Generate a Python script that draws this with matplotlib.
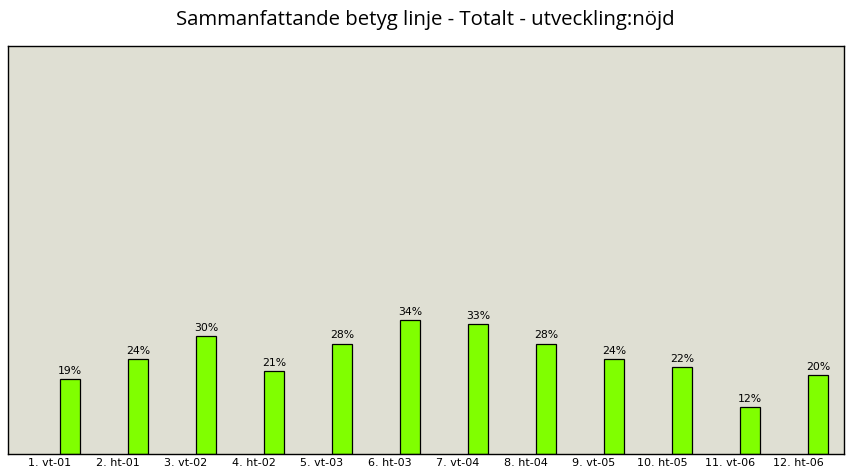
import matplotlib
matplotlib.use("Agg")
import matplotlib.pyplot as plt
import numpy as np

# data
categories = ["1. vt-01", "2. ht-01", "3. vt-02", "4. ht-02", "5. vt-03", "6. ht-03",
              "7. vt-04", "8. ht-04", "9. vt-05", "10. ht-05", "11. vt-06", "12. ht-06"]
values = [19, 24, 30, 21, 28, 34, 33, 28, 24, 22, 12, 20]
title = "Sammanfattande betyg linje - Totalt - utveckling:nöjd"

W, H = 851, 472
fig = plt.figure(figsize=(W / 100, H / 100), dpi=100)
ax = fig.add_axes([8 / W, (H - 454) / H, 836 / W, (454 - 46) / H])
ax.set_facecolor("#dfdfd3")

x = np.arange(len(categories))
offset = 0.294
bars = ax.bar(x + offset, values, width=0.294, color="#80ff00",
              edgecolor="black", linewidth=0.9)

for rect, v in zip(bars, values):
    ax.text(rect.get_x() + rect.get_width() / 2, rect.get_height() + 0.8,
            f"{v}%", ha="center", va="bottom", fontsize=7.8, color="black")

ax.set_xlim(-0.618, 11.676)
ax.set_ylim(0, 103.5)
ax.set_xticks(x)
ax.set_xticklabels(categories, fontsize=8)
ax.tick_params(axis="x", length=0, pad=3)
ax.set_yticks([])
for s in ax.spines.values():
    s.set_linewidth(1.0)
    s.set_color("black")

fig.text(0.5, 1 - 20 / H, title, ha="center", va="center", fontsize=14.7,
         family="Open Sans")

fig.savefig("out.png", dpi=100, facecolor="white")
